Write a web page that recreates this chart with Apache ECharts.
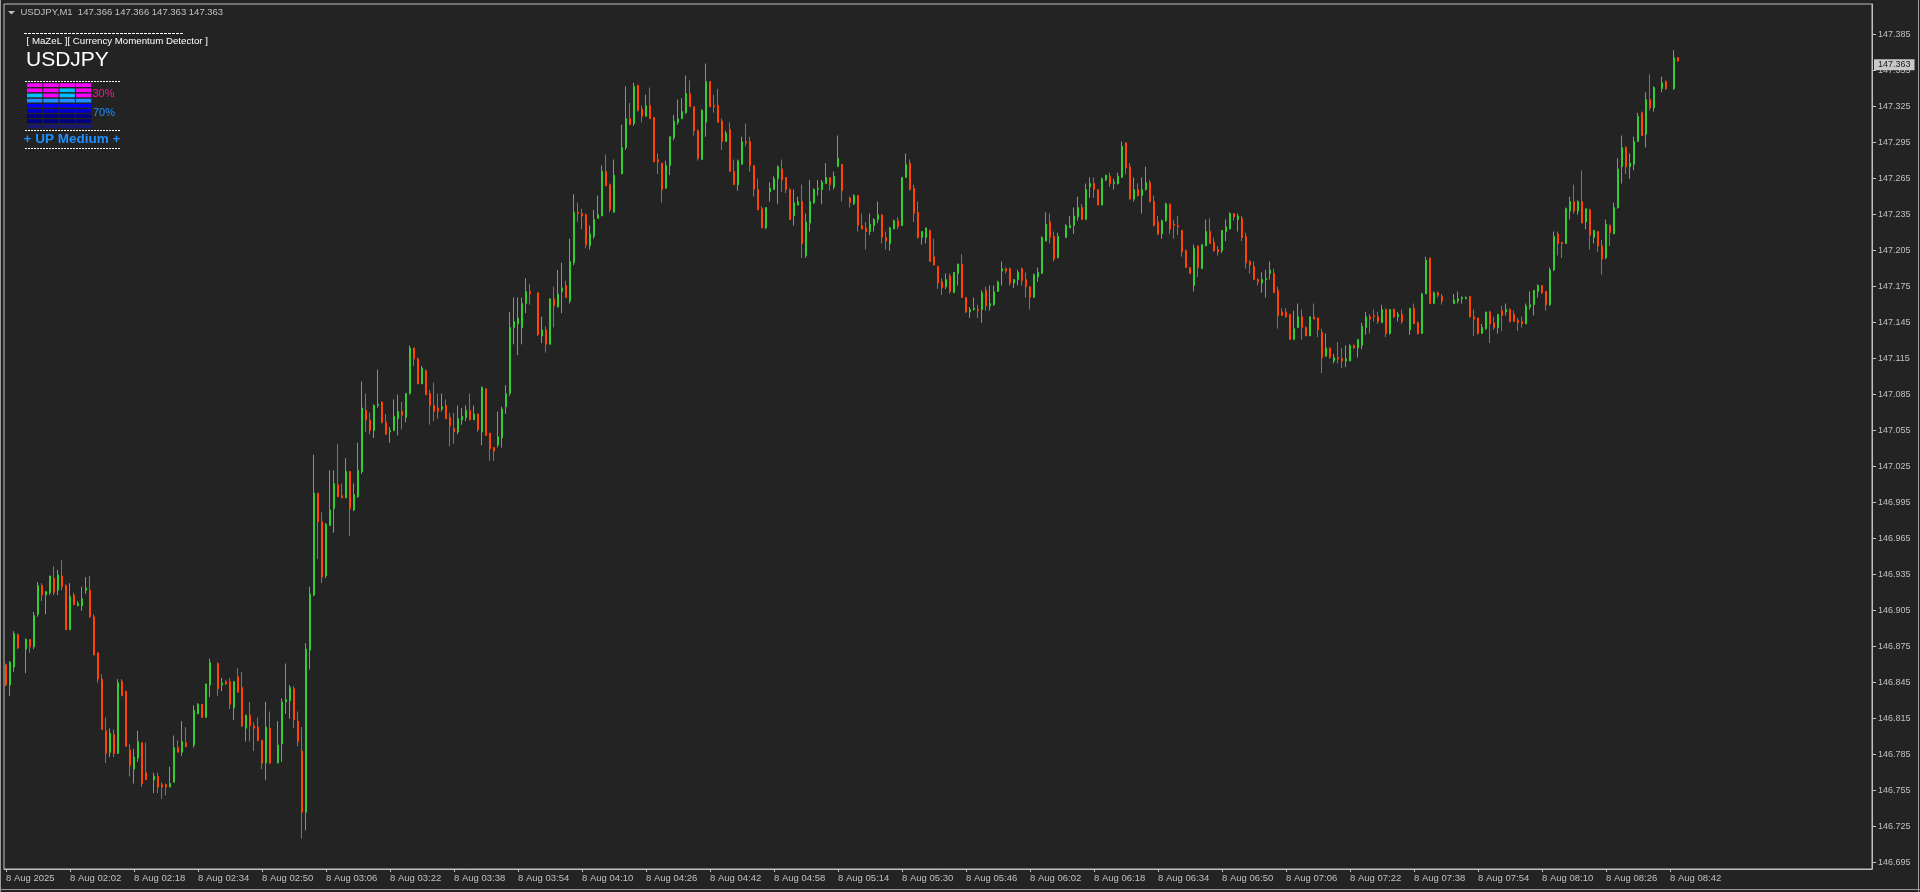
<!DOCTYPE html>
<html><head><meta charset="utf-8">
<style>html,body{margin:0;padding:0;background:#232323;overflow:hidden}#c{width:1920px;height:892px}</style>
<script src="https://cdn.jsdelivr.net/npm/echarts@6/dist/echarts.min.js"></script>
</head><body><div id="c"></div>
<script>
// ---- data ----
const START_MIN = 1 * 60 + 46;   // first bar 01:46
const SLOT_COUNT = 467;          // bars + right-side chart shift
const timeTickLabels = ['8 Aug 2025','8 Aug 02:02','8 Aug 02:18','8 Aug 02:34','8 Aug 02:50','8 Aug 03:06','8 Aug 03:22','8 Aug 03:38','8 Aug 03:54','8 Aug 04:10','8 Aug 04:26','8 Aug 04:42','8 Aug 04:58','8 Aug 05:14','8 Aug 05:30','8 Aug 05:46','8 Aug 06:02','8 Aug 06:18','8 Aug 06:34','8 Aug 06:50','8 Aug 07:06','8 Aug 07:22','8 Aug 07:38','8 Aug 07:54','8 Aug 08:10','8 Aug 08:26','8 Aug 08:42'];
const priceTicks = [146.695,146.725,146.755,146.785,146.815,146.845,146.875,146.905,146.935,146.965,146.995,147.025,147.055,147.085,147.115,147.145,147.175,147.205,147.235,147.265,147.295,147.325,147.355,147.385];
const lastPrice = 147.363;
const headerText = 'USDJPY,M1  147.366 147.366 147.363 147.363';

const opens = [
146.860,146.843,146.858,146.885,null,146.873,146.881,146.875,146.902,146.926,
146.918,146.920,146.932,146.922,146.934,146.926,146.889,146.918,146.909,146.909,
146.922,146.922,146.900,146.870,146.848,146.805,146.787,146.802,146.786,146.846,
146.838,146.789,146.773,146.782,146.795,146.770,null,146.764,146.767,146.760,
146.760,146.758,146.762,146.791,146.787,146.795,null,146.793,146.819,146.827,
146.816,146.843,null,146.861,146.843,146.846,146.846,146.824,146.850,146.841,
146.807,146.818,146.809,146.808,146.797,146.778,146.807,null,146.778,146.794,
146.829,146.830,146.840,146.813,146.788,146.737,146.872,146.918,147.003,146.979,
146.934,146.976,146.990,147.010,147.001,146.999,147.021,146.989,147.000,147.021,
147.072,147.064,147.055,147.076,147.079,147.062,147.054,147.055,147.065,147.071,
147.066,147.086,147.124,147.115,147.094,147.105,147.086,147.076,147.074,147.073,
147.076,147.066,147.057,147.054,147.064,147.066,147.072,147.064,147.069,147.054,
147.090,147.053,147.041,147.043,147.049,147.075,147.086,147.141,147.144,147.141,
147.161,147.171,null,147.170,147.134,147.139,147.127,147.165,147.158,147.171,
147.176,147.163,147.195,147.237,147.236,147.235,147.209,147.217,147.232,147.234,
147.271,147.260,147.237,null,147.269,147.291,147.315,147.311,147.343,147.323,
147.317,147.326,147.316,147.281,147.278,147.257,147.276,147.299,147.312,147.315,
147.320,147.336,147.325,147.305,147.281,147.312,147.346,147.326,147.326,147.313,
147.296,147.306,147.271,147.260,147.277,147.296,147.296,147.276,147.256,147.240,
147.224,147.254,147.256,147.265,147.273,147.266,147.256,147.234,147.243,147.246,
147.201,147.228,147.245,147.256,147.256,147.261,147.266,147.258,147.275,147.277,
null,147.249,147.244,147.251,147.226,147.224,147.221,147.226,147.231,147.235,
147.216,147.211,147.223,147.230,147.226,147.266,147.278,147.257,147.237,147.216,
147.216,147.222,147.200,147.192,147.179,147.175,147.184,147.170,147.186,147.194,
147.166,147.154,147.156,147.156,147.156,147.172,147.159,147.160,147.171,147.188,
147.190,147.190,147.178,147.181,147.190,147.181,147.175,147.166,147.183,147.186,
147.213,147.229,147.217,147.199,null,147.216,147.224,147.226,147.233,147.241,
147.231,147.258,147.261,147.256,147.243,147.264,147.267,147.261,147.261,147.266,
147.295,147.275,147.248,147.256,147.251,147.256,147.262,147.246,147.229,147.219,
147.230,147.244,147.227,147.226,147.222,147.205,147.191,147.176,147.209,147.190,
147.209,147.221,147.212,147.206,147.205,147.221,147.223,147.236,147.231,147.232,
147.217,147.196,147.192,147.181,147.178,147.181,147.186,147.186,147.172,147.154,
147.154,147.152,147.131,147.141,147.150,147.141,147.134,147.150,147.149,147.137,
147.117,147.124,147.113,147.116,147.115,147.113,147.113,147.126,147.124,147.126,
147.141,147.150,147.151,147.150,147.145,147.156,147.136,147.156,147.150,147.152,
null,147.139,147.157,147.145,147.136,147.169,147.199,147.161,147.170,147.167,
null,null,147.161,147.163,147.165,147.165,147.167,147.150,147.149,147.136,
147.140,147.154,147.145,147.141,147.155,147.154,147.156,147.152,147.147,147.146,
147.144,147.158,147.160,147.171,147.176,147.171,147.160,147.189,147.219,147.212,
147.211,147.238,147.246,147.238,147.246,147.229,147.239,147.216,147.221,147.209,
147.199,147.226,147.219,147.241,147.275,147.291,147.275,147.277,147.296,147.320,
147.302,147.331,147.324,null,147.340,147.346,null,147.340,147.366];

const highs = [
146.861,146.863,146.888,146.886,null,146.882,146.881,146.904,146.929,146.928,
146.921,146.934,146.942,146.939,146.947,146.927,146.928,146.920,146.913,146.925,
146.933,146.934,146.902,146.870,146.852,146.816,146.807,146.806,146.848,146.848,
146.838,146.794,146.790,146.805,146.795,146.795,null,146.770,146.770,146.762,
146.761,146.775,146.801,146.797,146.813,146.808,null,146.826,146.828,146.827,
146.844,146.865,null,146.862,146.849,146.847,146.849,146.846,146.857,146.854,
146.818,146.829,146.812,146.816,146.797,146.829,146.821,null,146.813,146.832,
146.861,146.843,146.842,146.821,146.808,146.878,146.925,147.035,147.003,146.987,
146.978,147.022,147.022,147.044,147.011,147.032,147.021,147.011,147.045,147.096,
147.086,147.070,147.077,147.106,147.079,147.069,147.058,147.081,147.085,147.079,
147.086,147.126,147.124,147.116,147.109,147.106,147.089,147.095,147.086,147.086,
147.081,147.070,147.070,147.076,147.074,147.076,147.086,147.076,147.069,147.092,
147.090,147.053,147.041,147.071,147.075,147.093,147.154,147.166,147.166,147.166,
147.182,147.177,null,147.170,147.150,147.142,147.165,147.175,147.189,147.195,
147.180,147.215,147.252,147.245,147.240,147.236,147.226,147.239,147.251,147.276,
147.285,147.261,147.281,null,147.310,147.342,147.328,147.345,147.343,147.326,
147.335,147.341,147.316,147.286,147.278,147.280,147.300,147.318,147.331,147.332,
147.351,147.347,147.325,147.306,147.323,147.361,147.346,147.335,147.340,147.315,
147.305,147.312,147.281,147.281,147.300,147.311,147.300,147.276,147.265,147.242,
147.241,147.262,147.267,147.276,147.281,147.266,147.257,147.256,147.250,147.260,
147.236,147.264,147.257,147.264,147.264,147.278,147.266,147.271,147.301,147.277,
null,147.250,147.252,147.251,147.236,147.229,147.236,147.232,147.246,147.235,
147.221,147.225,147.231,147.233,147.266,147.286,147.281,147.260,147.246,147.221,
147.224,147.222,147.215,147.192,147.182,147.186,147.186,147.187,147.194,147.202,
147.166,147.158,147.166,147.160,147.172,147.175,147.176,147.176,147.180,147.196,
147.191,147.191,147.181,147.189,147.191,147.187,147.175,147.186,147.191,147.217,
147.237,147.236,147.221,147.220,null,147.227,147.234,147.241,147.250,147.244,
147.261,147.266,147.266,147.256,147.266,147.268,147.270,147.265,147.270,147.296,
147.295,147.278,147.266,147.261,147.266,147.275,147.264,147.251,147.234,147.231,
147.245,147.244,147.231,147.234,147.222,147.206,147.191,147.210,147.209,147.210,
147.231,147.232,147.216,147.209,147.222,147.231,147.237,147.236,147.236,147.234,
147.220,147.197,147.196,147.182,147.187,147.189,147.196,147.190,147.175,147.157,
147.157,147.152,147.155,147.161,147.156,147.142,147.150,147.161,147.149,147.140,
147.136,147.124,147.119,147.129,147.124,147.126,147.127,147.127,147.131,147.145,
147.154,147.152,147.156,147.154,147.160,147.157,147.156,147.157,147.154,147.156,
null,147.157,147.161,147.146,147.170,147.200,147.199,147.171,147.171,147.169,
null,null,147.169,147.171,147.167,147.167,147.167,147.156,147.149,147.144,
147.154,147.155,147.150,147.152,147.159,147.161,147.157,147.155,147.149,147.150,
147.161,147.171,147.172,147.177,147.176,147.171,147.191,147.221,147.221,147.212,
147.241,147.250,147.260,147.247,147.272,147.240,147.240,147.222,147.221,147.214,
147.231,147.227,147.245,147.282,147.301,147.292,147.286,147.300,147.320,147.321,
147.337,147.352,147.342,null,147.350,147.347,null,147.372,147.366];

const lows = [
146.842,146.834,146.854,146.873,null,146.853,146.870,146.873,146.900,146.913,
146.902,146.918,146.918,146.918,146.922,146.889,146.889,146.910,146.909,146.905,
146.919,146.899,146.868,146.845,146.806,146.778,146.783,146.783,146.786,146.834,
146.792,146.767,146.761,146.779,146.758,146.764,null,146.753,146.753,146.748,
146.751,146.758,146.762,146.787,146.784,146.791,null,146.791,146.819,146.816,
146.816,146.833,null,146.834,146.838,146.843,146.823,146.814,146.837,146.808,
146.796,146.796,146.788,146.796,146.773,146.764,146.777,null,146.778,146.779,
146.819,146.815,146.807,146.792,146.715,146.722,146.856,146.917,146.948,146.928,
146.932,146.976,146.970,147.000,146.999,146.999,146.967,146.988,146.999,147.019,
147.054,147.052,147.049,147.074,147.061,147.052,147.045,147.055,147.051,147.056,
147.062,147.085,147.109,147.094,147.094,147.085,147.060,147.063,147.065,147.071,
147.065,147.042,147.044,147.052,147.060,147.063,147.064,147.064,147.054,147.043,
147.051,147.030,147.030,147.041,147.041,147.069,147.084,147.127,147.118,147.127,
147.153,147.160,null,147.134,147.128,147.120,147.127,147.141,147.158,147.153,
147.166,147.161,147.193,147.229,147.223,147.207,147.206,147.215,147.232,147.234,
147.259,147.237,147.237,null,147.269,147.289,147.310,147.309,147.321,147.312,
147.317,147.315,147.279,147.269,147.245,147.257,147.268,147.297,147.310,147.315,
147.319,147.325,147.301,147.280,147.281,147.300,147.325,147.320,147.312,147.289,
147.296,147.271,147.260,147.255,147.277,147.292,147.271,147.250,147.239,147.224,
147.223,147.246,147.256,147.244,147.254,147.253,147.231,147.226,147.243,147.199,
147.199,147.221,147.244,147.251,147.244,147.261,147.255,147.256,147.275,147.246,
null,147.241,147.243,147.221,147.223,147.206,147.218,147.221,147.228,147.211,
147.206,147.205,147.223,147.223,147.226,147.266,147.255,147.229,147.215,147.210,
147.211,147.196,147.193,147.173,147.168,147.173,147.169,147.170,147.176,147.166,
147.153,147.149,147.155,147.149,147.145,147.155,147.155,147.159,147.171,147.176,
147.186,147.176,147.174,147.176,147.176,147.166,147.156,147.166,147.179,147.186,
147.213,147.211,147.196,147.199,null,147.216,147.224,147.219,147.230,147.231,
147.231,147.249,147.249,147.243,147.243,147.263,147.258,147.256,147.260,147.266,
147.269,147.248,147.246,147.250,147.236,147.255,147.245,147.225,147.218,147.215,
147.229,147.219,147.215,147.218,147.200,147.191,147.186,147.171,147.183,147.190,
147.209,147.211,147.204,147.201,147.203,147.213,147.223,147.230,147.221,147.213,
147.190,147.186,147.181,147.176,147.170,147.166,147.181,147.170,147.140,147.151,
147.149,147.131,147.131,147.141,147.131,147.134,147.134,147.148,147.133,147.103,
147.117,147.115,147.111,147.111,147.107,147.108,147.113,147.123,147.116,147.123,
147.135,147.136,147.146,147.144,147.145,147.133,147.135,147.149,147.146,147.144,
null,147.135,147.144,147.135,147.136,147.169,147.161,147.161,147.166,147.160,
null,null,147.161,147.161,147.161,147.165,147.149,147.134,147.135,147.136,
147.139,147.128,147.139,147.136,147.138,147.151,147.145,147.146,147.138,147.141,
147.144,147.156,147.151,147.166,147.169,147.155,147.159,147.188,147.201,147.199,
147.211,147.231,147.236,147.235,147.228,147.223,147.206,147.211,147.204,147.185,
147.198,147.209,147.219,147.240,147.261,147.269,147.265,147.272,147.296,147.301,
147.291,147.322,147.321,null,147.337,147.339,null,147.339,147.363];

const closes = [
146.843,146.862,146.886,146.874,null,146.881,146.875,146.901,146.926,146.918,
146.921,146.934,146.920,146.935,146.925,146.889,146.917,146.910,146.911,146.915,
146.924,146.900,146.868,146.848,146.806,146.786,146.803,146.786,146.845,146.834,
146.792,146.776,146.783,146.796,146.761,146.764,null,146.767,146.758,146.758,
146.758,146.761,146.791,146.787,146.796,146.792,null,146.822,146.827,146.816,
146.844,146.862,null,146.840,146.845,146.844,146.827,146.846,146.837,146.809,
146.818,146.809,146.807,146.797,146.778,146.808,146.778,null,146.793,146.829,
146.831,146.841,146.814,146.796,146.737,146.873,146.919,147.003,146.979,146.933,
146.977,146.989,147.011,147.000,146.999,147.021,146.990,147.002,147.022,147.074,
147.064,147.055,147.076,147.077,147.062,147.052,147.055,147.067,147.071,147.068,
147.086,147.124,147.115,147.094,147.107,147.085,147.076,147.071,147.071,147.075,
147.065,147.059,147.054,147.065,147.067,147.072,147.064,147.069,147.056,147.091,
147.051,147.040,147.038,147.050,147.073,147.086,147.141,147.146,147.149,147.161,
147.171,147.169,null,147.135,147.139,147.127,147.165,147.159,147.169,147.174,
147.166,147.196,147.237,147.236,147.234,147.210,147.219,147.231,147.235,147.271,
147.259,147.239,147.268,null,147.291,147.315,147.310,147.342,147.322,147.317,
147.326,147.315,147.279,147.279,147.256,147.276,147.300,147.313,147.315,147.321,
147.336,147.325,147.305,147.282,147.322,147.346,147.325,147.325,147.312,147.296,
147.303,147.271,147.260,147.280,147.296,147.295,147.276,147.256,147.239,147.224,
147.241,147.257,147.265,147.275,147.264,147.256,147.231,147.245,147.246,147.211,
147.229,147.246,147.256,147.257,147.262,147.266,147.260,147.267,147.282,147.255,
null,147.245,147.251,147.226,147.223,147.221,147.227,147.231,147.235,147.216,
147.213,147.224,147.230,147.225,147.266,147.277,147.256,147.236,147.216,147.221,
147.224,147.196,147.193,147.178,147.174,147.181,147.171,147.187,147.194,147.166,
147.154,147.156,147.157,147.155,147.170,147.159,147.161,147.171,147.179,147.190,
147.188,147.178,147.181,147.187,147.180,147.175,147.166,147.185,147.187,147.216,
147.227,147.216,147.198,147.217,null,147.226,147.226,147.234,147.241,147.231,
147.256,147.261,147.256,147.243,147.265,147.268,147.261,147.262,147.267,147.292,
147.274,147.248,147.256,147.251,147.256,147.262,147.246,147.226,147.219,147.230,
147.244,147.223,147.226,147.225,147.204,147.191,147.186,147.207,147.191,147.210,
147.221,147.211,147.205,147.204,147.222,147.225,147.236,147.233,147.234,147.216,
147.195,147.193,147.181,147.179,147.181,147.182,147.189,147.170,147.151,147.151,
147.150,147.131,147.140,147.150,147.141,147.134,147.150,147.148,147.139,147.116,
147.124,147.116,147.116,147.115,147.113,147.115,147.126,147.124,147.131,147.142,
147.150,147.148,147.150,147.146,147.156,147.136,147.156,147.150,147.152,147.146,
null,147.157,147.144,147.136,147.169,147.197,147.161,147.170,147.168,147.163,
null,null,147.164,147.165,147.166,147.166,147.150,147.148,147.136,147.141,
147.154,147.144,147.141,147.152,147.151,147.156,147.146,147.146,147.145,147.144,
147.159,147.160,147.172,147.176,147.170,147.160,147.189,147.217,147.211,147.211,
147.240,147.246,147.238,147.246,147.228,147.240,147.218,147.222,147.209,147.198,
147.227,147.220,147.241,147.273,147.291,147.275,147.278,147.296,147.317,147.301,
147.331,147.324,147.341,null,147.345,147.340,null,147.366,147.363];

// indicator panel (MaZeL Currency Momentum Detector)
const meterRows = [
  ['#ff00ff','#ff00ff','#ff00ff','#ff00ff'],
  ['#ff00ff','#ff00ff','#00bfff','#ff00ff'],
  ['#00bfff','#ff00ff','#00bfff','#ff00ff'],
  ['#1e90ff','#1e90ff','#1e90ff','#1e90ff'],
  ['#0000ff','#0000ff','#0000ff','#0000ff'],
  ['#0000cd','#0000cd','#0000cd','#0000cd'],
  ['#00008b','#00008b','#00008b','#00008b'],
  ['#000080','#000080','#000080','#000080'],
  ['#191970','#191970','#191970','#191970']
];
const meterDown = '30%';
const meterUp = '70%';
const signalText = '+ UP Medium +';

// ---- chart ----
const pad = n => (n < 10 ? '0' : '') + n;
const categories = [];
for (let i = 0; i < SLOT_COUNT; i++) {
  const m = START_MIN + i;
  categories.push(pad(Math.floor(m / 60) % 24) + ':' + pad(m % 60));
}
const candleData = opens.map((o, i) => o == null ? ['-', '-', '-', '-'] : [o, closes[i], lows[i], highs[i]]);

const FG = '#c0c0c0';
const FONT = '"Liberation Sans", Arial, sans-serif';
const showTick = i => i % 16 === 0 && (i / 16) < timeTickLabels.length;

const G = [];
// window frame
G.push({type:'line', shape:{x1:0.5,y1:0,x2:0.5,y2:892}, style:{stroke:'#9a9a9a',lineWidth:1}});
G.push({type:'line', shape:{x1:1918.5,y1:0,x2:1918.5,y2:892}, style:{stroke:'#9a9a9a',lineWidth:1}});
G.push({type:'line', shape:{x1:0,y1:889.5,x2:1920,y2:889.5}, style:{stroke:'#9a9a9a',lineWidth:1}});
// header
G.push({type:'polygon', shape:{points:[[8,11],[15,11],[11.5,14.5]]}, style:{fill:FG}});
G.push({type:'text', x:20.5, y:12.5, style:{text:headerText, fill:FG, font:'9.5px ' + FONT, verticalAlign:'middle'}});
// indicator panel
G.push({type:'line', shape:{x1:24,y1:33.5,x2:183,y2:33.5}, style:{stroke:'#ffffff',lineWidth:1,lineDash:[3,1]}});
G.push({type:'text', x:26.5, y:41.5, style:{text:'[ MaZeL ][ Currency Momentum Detector ]', fill:'#ffffff', font:'9.7px ' + FONT, verticalAlign:'middle'}});
G.push({type:'text', x:26, y:60.5, style:{text:'USDJPY', fill:'#ffffff', font:'21px ' + FONT, verticalAlign:'middle'}});
G.push({type:'line', shape:{x1:25,y1:81.5,x2:121,y2:81.5}, style:{stroke:'#ffffff',lineWidth:1,lineDash:[2,1]}});
meterRows.forEach((row, r) => row.forEach((col, c) => {
  G.push({type:'rect', shape:{x:27 + 16.3 * c, y:83.3 + 5.15 * r, width:15.3, height:3.7}, style:{fill:col}});
}));
G.push({type:'text', x:92.5, y:93.5, style:{text:meterDown, fill:'#ff1493', font:'11px ' + FONT, verticalAlign:'middle'}});
G.push({type:'text', x:93, y:113.3, style:{text:meterUp, fill:'#1e90ff', font:'11px ' + FONT, verticalAlign:'middle'}});
G.push({type:'line', shape:{x1:25,y1:130.5,x2:121,y2:130.5}, style:{stroke:'#ffffff',lineWidth:1,lineDash:[2,1]}});
G.push({type:'text', x:23.5, y:139.5, style:{text:signalText, fill:'#1e90ff', font:'bold 13.5px ' + FONT, verticalAlign:'middle'}});
G.push({type:'line', shape:{x1:25,y1:148.5,x2:121,y2:148.5}, style:{stroke:'#ffffff',lineWidth:1,lineDash:[2,1]}});
G.forEach(e => { e.silent = true; e.z = 100; });

const chart = echarts.init(document.getElementById('c'), null, {renderer:'canvas'});
chart.setOption({
  animation: false,
  backgroundColor: '#232323',
  grid: {left:4, top:4, width:1868, height:865, show:true, borderColor:FG, borderWidth:1, backgroundColor:'transparent', containLabel:false},
  xAxis: {
    type:'category', data:categories, boundaryGap:true,
    axisLine:{show:true, lineStyle:{color:FG, width:1}},
    axisTick:{show:true, alignWithLabel:true, length:3, interval:showTick, lineStyle:{color:FG}},
    axisLabel:{show:true, interval:showTick, formatter:(v, i) => timeTickLabels[i / 16] || '', align:'left', color:FG, fontSize:9.5, fontFamily:FONT, margin:4},
    splitLine:{show:false}
  },
  yAxis: {
    type:'value', position:'right', min:146.68975, max:147.4106, scale:true,
    axisLine:{show:true, lineStyle:{color:FG, width:1}},
    axisTick:{show:true, length:4, customValues:priceTicks, lineStyle:{color:FG}},
    axisLabel:{show:true, customValues:priceTicks, formatter:v => v.toFixed(3), color:FG, fontSize:9, fontFamily:FONT, margin:6},
    splitLine:{show:false}
  },
  series: [{
    type:'candlestick', data:candleData, barWidth:2,
    itemStyle:{color:'#32cd32', color0:'#ff4500', borderColor:'#32cd32', borderColor0:'#ff4500', borderWidth:1},
    markLine:{
      silent:true, symbol:['none','none'], animation:false,
      lineStyle:{color:'rgba(0,0,0,0)', width:0},
      label:{show:true, position:'end', distance:2, formatter:lastPrice.toFixed(3), backgroundColor:'#c8c8c8', color:'#202020', fontSize:9, fontFamily:FONT, padding:[1,4,0,4], lineHeight:10},
      data:[{yAxis:lastPrice}]
    }
  }],
  graphic: {elements: G}
});
</script>
</body></html>
